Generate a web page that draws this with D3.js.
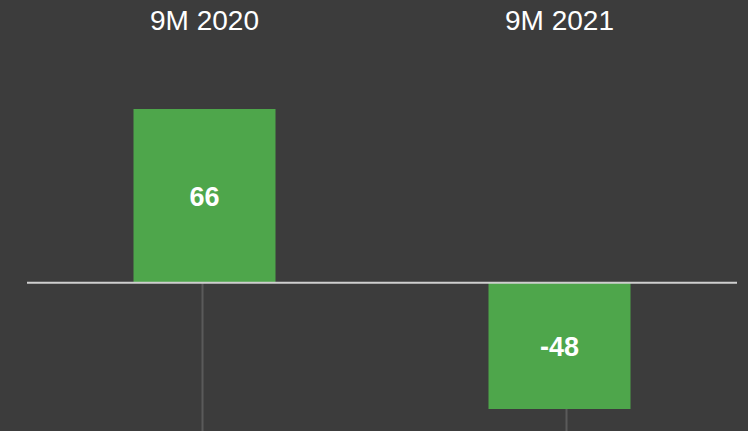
<!DOCTYPE html>
<html>
<head>
<meta charset="utf-8">
<script src="https://cdn.jsdelivr.net/npm/d3@7"></script>
<style>
  html, body { margin: 0; padding: 0; background: #3c3c3c; }
  svg { display: block; }
</style>
</head>
<body>
<div class="chart"></div>
<script>
var categories = ["9M 2020", "9M 2021"];
var values = [66, -48];
var valueLabels = ["66", "-48"];

var chartWidth = 748;
var chartHeight = 431;
var barColor = "#4ea64b";
var bg = "#3c3c3c";

var svg = d3.select(".chart")
  .append("svg")
  .attr("width", chartWidth)
  .attr("height", chartHeight)
  .style("background", bg);

var x = d3.scaleBand()
  .domain(categories)
  .range([27, 737])
  .padding(0);

var barWidth = x.bandwidth() * 0.4;

var y = d3.scaleLinear()
  .domain([d3.min(values), d3.max(values)])
  .range([409, 109]);

// grey drop lines under the zero line
var dropOffset = [-2, 7];
svg.selectAll("line.drop")
  .data(categories)
  .enter()
  .append("line")
  .attr("class", "drop")
  .attr("x1", function(d, i) { return x(d) + x.bandwidth() / 2 + dropOffset[i]; })
  .attr("x2", function(d, i) { return x(d) + x.bandwidth() / 2 + dropOffset[i]; })
  .attr("y1", y(0))
  .attr("y2", chartHeight)
  .attr("stroke", "#5a5a5a")
  .attr("stroke-width", 2);

svg.selectAll("rect")
  .data(values)
  .enter()
  .append("rect")
  .attr("x", function(d, i) { return x(categories[i]) + (x.bandwidth() - barWidth) / 2; })
  .attr("y", function(d) { return y(Math.max(0, d)); })
  .attr("width", barWidth)
  .attr("height", function(d) { return Math.abs(y(d) - y(0)); })
  .attr("fill", barColor);

// zero line
svg.append("line")
  .attr("x1", x.range()[0])
  .attr("x2", x.range()[1])
  .attr("y1", y(0))
  .attr("y2", y(0))
  .attr("stroke", "#cfcfcf")
  .attr("stroke-width", 2);

svg.selectAll("text.cat")
  .data(categories)
  .enter()
  .append("text")
  .attr("class", "cat")
  .attr("x", function(d) { return x(d) + x.bandwidth() / 2; })
  .attr("y", 30)
  .attr("text-anchor", "middle")
  .attr("fill", "#ffffff")
  .style("font-family", "'Liberation Sans', Arial, sans-serif")
  .style("font-size", "28px")
  .text(function(d) { return d; });

svg.selectAll("text.val")
  .data(values)
  .enter()
  .append("text")
  .attr("class", "val")
  .attr("x", function(d, i) { return x(categories[i]) + x.bandwidth() / 2; })
  .attr("y", function(d) { return (y(d) + y(0)) / 2; })
  .attr("dy", "0.36em")
  .attr("text-anchor", "middle")
  .attr("fill", "#ffffff")
  .style("font-family", "'Liberation Sans', Arial, sans-serif")
  .style("font-size", "27px")
  .style("font-weight", "bold")
  .text(function(d, i) { return valueLabels[i]; });
</script>
</body>
</html>
